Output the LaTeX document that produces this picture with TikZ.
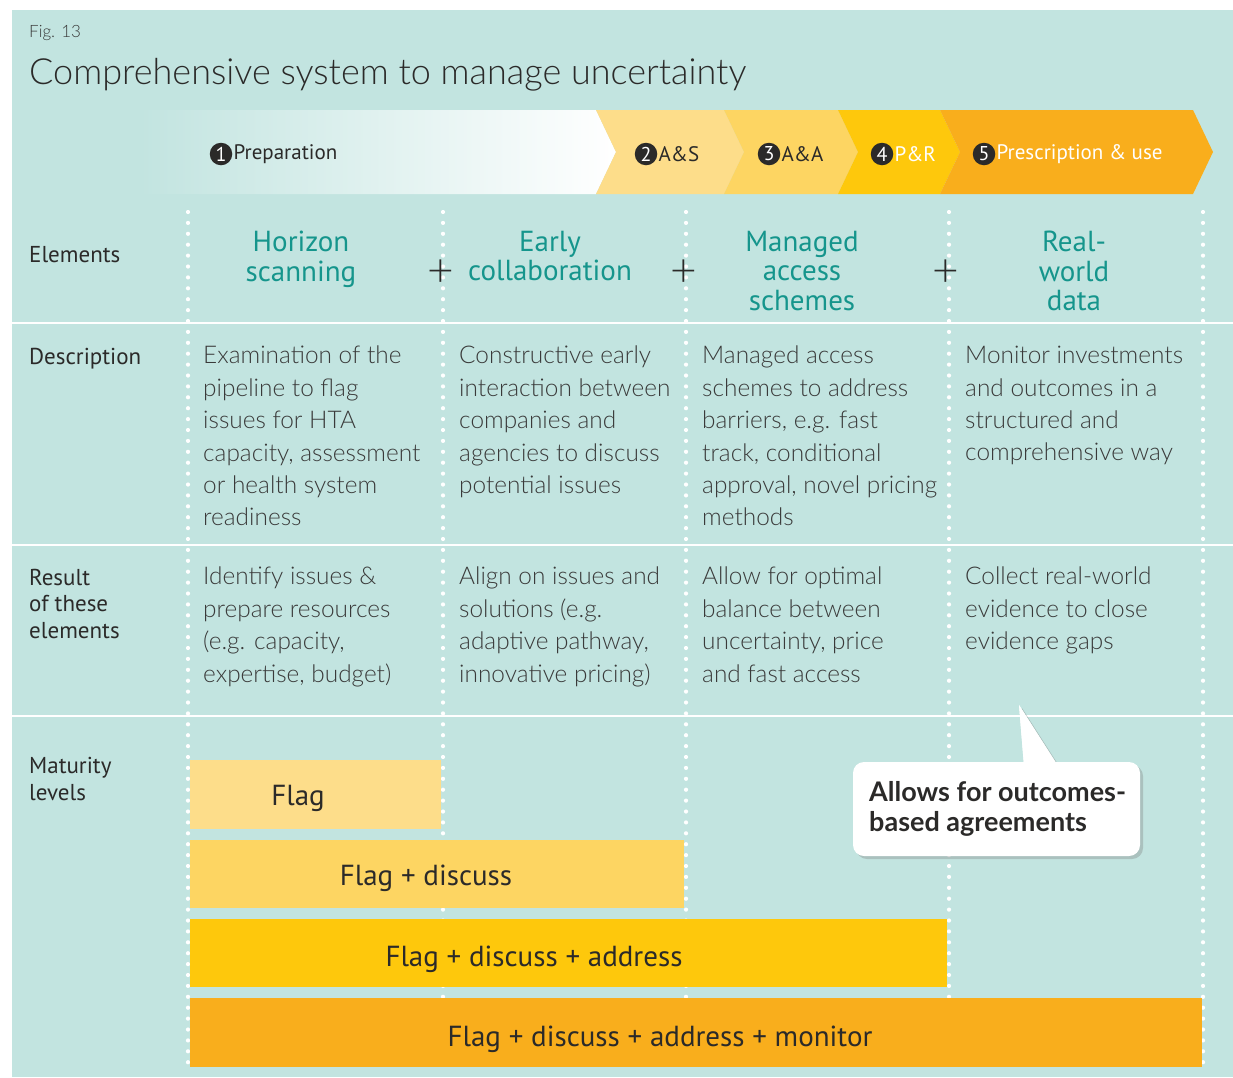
\documentclass[tikz,border=0pt]{standalone}
\usepackage{fontspec}
\setmainfont{PT Sans}
\newfontfamily\lightfont{Lato Light}
\newfontfamily\heavyfont{Lato}
\usetikzlibrary{shadows}
\definecolor{bgc}{HTML}{C2E4E0}
\definecolor{tealc}{HTML}{15958C}
\definecolor{darkc}{HTML}{2B2A29}
\definecolor{greyc}{HTML}{3A3A3A}
\definecolor{cA}{HTML}{FDDD8A}
\definecolor{cB}{HTML}{FDD562}
\definecolor{cC}{HTML}{FEC80C}
\definecolor{cD}{HTML}{F9AE1C}
\tikzset{
  numdot/.style={circle, fill=darkc, text=white, inner sep=0pt, minimum size=22.5pt, font=\fontsize{20}{20}\selectfont},
  phaselabel/.style={anchor=west, inner sep=1pt, font=\fontsize{21}{22}\selectfont},
  rowlabel/.style={anchor=north west, align=left, inner sep=0pt, text=darkc, font=\fontsize{23}{26.5}\selectfont},
  header/.style={anchor=north, align=center, inner sep=0pt, text=tealc, font=\fontsize{29}{29.3}\selectfont},
  plussign/.style={inner sep=0pt, text=darkc, font=\lightfont\fontsize{46}{46}\selectfont},
  bodytext/.style={anchor=north west, align=left, inner sep=0pt, text=greyc, font=\lightfont\fontsize{24.4}{32.4}\selectfont},
  dotline/.style={white, line width=4.2pt, line cap=round, dash pattern=on 0pt off 10.9pt},
  sepline/.style={white, line width=1.5pt},
  bartext/.style={inner sep=0pt, text=darkc, font=\fontsize{29}{30}\selectfont},
}
\begin{document}
\begin{tikzpicture}[x=1pt,y=-1pt]
\useasboundingbox (0,0) rectangle (1233,1077);
\fill[white] (0,0) rectangle (1233,1077);
\fill[bgc] (12,10) rectangle (1233,1077);

% title
\node[anchor=base west, inner sep=0pt, text=greyc, font=\lightfont\fontsize{17}{18}\selectfont] (fig) at (29,37) {Fig. 13};
\node[anchor=base west, inner sep=0pt, text=darkc, font=\lightfont\fontsize{36}{40}\selectfont] (title) at (29,84) {Comprehensive system to manage uncertainty};

% phase band
\shade[left color=bgc, right color=white] (140,110) -- (596,110) -- (616,152) -- (596,194) -- (140,194) -- cycle;
\fill[cA] (596,110) -- (724,110) -- (744,152) -- (724,194) -- (596,194) -- (616,152) -- cycle;
\fill[cB] (724,110) -- (838,110) -- (858,152) -- (838,194) -- (724,194) -- (744,152) -- cycle;
\fill[cC] (838,110) -- (940,110) -- (960,152) -- (940,194) -- (838,194) -- (858,152) -- cycle;
\fill[cD] (940,110) -- (1193,110) -- (1213,152) -- (1193,194) -- (940,194) -- (960,152) -- cycle;

\node[numdot] (n1) at (221,154) {1};
\node[phaselabel, text=darkc] (p1) at (n1.east) {Preparation};
\node[numdot] (n2) at (646,154) {2};
\node[phaselabel, text=darkc] (p2) at (n2.east) {A\&S};
\node[numdot] (n3) at (769,154) {3};
\node[phaselabel, text=darkc] (p3) at (n3.east) {A\&A};
\node[numdot] (n4) at (882,154) {4};
\node[phaselabel, text=white] (p4) at (n4.east) {P\&R};
\node[numdot] (n5) at (984,154) {5};
\node[phaselabel, text=white] (p5) at (n5.east) {Prescription \& use};

% separators
\coordinate (hL1) at (12,323);  \coordinate (hR1) at (1233,323);
\coordinate (hL2) at (12,545);  \coordinate (hR2) at (1233,545);
\coordinate (hL3) at (12,716);  \coordinate (hR3) at (1233,716);
\draw[sepline] (hL1) -- (hR1);
\draw[sepline] (hL2) -- (hR2);
\draw[sepline] (hL3) -- (hR3);
\foreach \x [count=\i] in {188,443,686,949,1203}{
  \coordinate (dt\i) at (\x,212);
  \coordinate (db\i) at (\x,1066);
  \draw[dotline] (dt\i) -- (db\i);
}

% row labels
\node[rowlabel] (rElem) at (29,246) {Elements};
\node[rowlabel] (rDesc) at (29,348) {Description};
\node[rowlabel] (rRes) at (29,569) {Result\\of these\\elements};
\node[rowlabel] (rMat) at (29,757) {Maturity\\levels};

% headers
\node[header] (hd1) at (301,231) {Horizon\\scanning};
\node[header] (hd2) at (550,231) {Early\\collaboration};
\node[header] (hd3) at (802,231) {Managed\\access\\schemes};
\node[header] (hd4) at (1074,231) {Real-\\world\\data};
\node[plussign] (pl1) at (441,273) {+};
\node[plussign] (pl2) at (684,273) {+};
\node[plussign] (pl3) at (946,273) {+};

% descriptions
\node[bodytext] (d1) at (203,346) {Examination of the\\pipeline to flag\\issues for HTA\\capacity, assessment\\or health system\\readiness};
\node[bodytext] (d2) at (459,346) {Constructive early\\interaction between\\companies and\\agencies to discuss\\potential issues};
\node[bodytext] (d3) at (702,346) {Managed access\\schemes to address\\barriers, e.g. fast\\track, conditional\\approval, novel pricing\\methods};
\node[bodytext] (d4) at (965,346) {Monitor investments\\and outcomes in a\\structured and\\comprehensive way};

% results
\node[bodytext] (r1) at (203,567) {Identify issues \&\\prepare resources\\(e.g. capacity,\\expertise, budget)};
\node[bodytext] (r2) at (459,567) {Align on issues and\\solutions (e.g.\\adaptive pathway,\\innovative pricing)};
\node[bodytext] (r3) at (702,567) {Allow for optimal\\balance between\\uncertainty, price\\and fast access};
\node[bodytext] (r4) at (965,567) {Collect real-world\\evidence to close\\evidence gaps};

% maturity bars
\fill[cA] (190,760) rectangle (441,829);
\fill[cB] (190,840) rectangle (684,908);
\fill[cC] (190,919) rectangle (947,987);
\fill[cD] (190,998) rectangle (1202,1067);
\node[bartext] (b1) at (298,798) {Flag};
\node[bartext] (b2) at (426,878) {Flag + discuss};
\node[bartext] (b3) at (534,959) {Flag + discuss + address};
\node[bartext] (b4) at (660,1039) {Flag + discuss + address + monitor};

% callout
\coordinate (tip) at (1019,705);
\fill[white, drop shadow={shadow xshift=3pt, shadow yshift=-3pt, opacity=0.35}] (tip) -- (1058,766) -- (1024,766) -- cycle;
\fill[white, rounded corners=11pt, drop shadow={shadow xshift=3pt, shadow yshift=-3pt, opacity=0.35}] (853,762) rectangle (1140,856);
\fill[white] (tip) -- (1058,766) -- (1024,766) -- cycle;
\node[anchor=north west, align=left, inner sep=0pt, text=darkc, font=\heavyfont\bfseries\fontsize{27}{30}\selectfont] (cb) at (869,781) {Allows for outcomes-\\based agreements};
\end{tikzpicture}
\end{document}
